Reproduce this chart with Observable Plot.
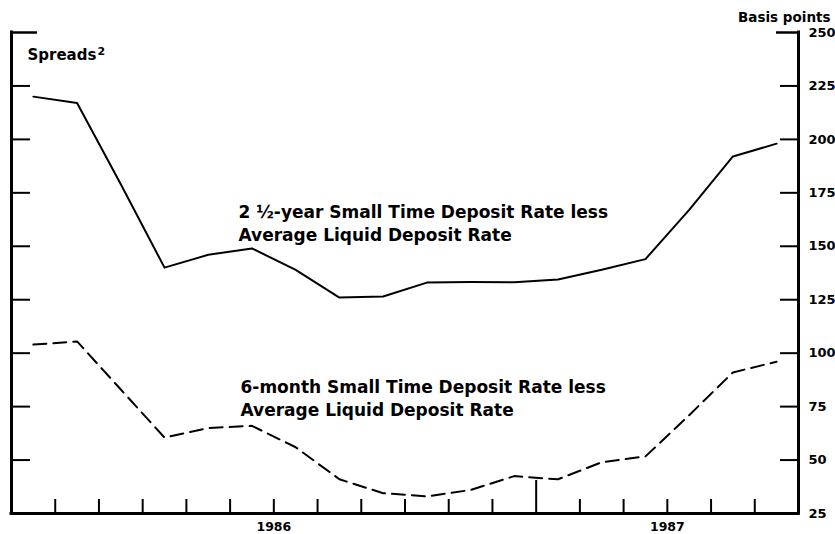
<!DOCTYPE html>
<html>
<head>
<meta charset="utf-8">
<script src="https://cdn.jsdelivr.net/npm/d3@7"></script>
<script src="https://cdn.jsdelivr.net/npm/@observablehq/plot@0.6"></script>
<style>
  html, body { margin: 0; padding: 0; background: #fff; }
</style>
</head>
<body>
<div id="chart"></div>
<script>
// Monthly observations, Jan 1986 – Jun 1987
const months = ["1986-01","1986-02","1986-03","1986-04","1986-05","1986-06","1986-07","1986-08","1986-09","1986-10","1986-11","1986-12",
                "1987-01","1987-02","1987-03","1987-04","1987-05","1987-06"];
// 2½-year small time deposit rate less average liquid deposit rate (basis points)
const longSpread  = [220, 217, 179, 140, 146, 149, 139, 126, 126.5, 133, 133.3, 133.2, 134.5, 139, 144, 167, 192, 198];
// 6-month small time deposit rate less average liquid deposit rate (basis points)
const shortSpread = [104, 105.5, 83, 60.5, 65, 66, 56, 41, 34.5, 33, 36, 42.5, 41, 49, 51.7, 71, 91, 96];

const yTickValues  = [50, 75, 100, 125, 150, 175, 200, 225];
const yLabelValues = [25, 50, 75, 100, 125, 150, 175, 200, 225, 250];
const yTop = 250;
const yBottom = 25;

const longLabel  = "2 \u00BD-year Small Time Deposit Rate less\nAverage Liquid Deposit Rate";
const shortLabel = "6-month Small Time Deposit Rate less\nAverage Liquid Deposit Rate";
const titleText = "Spreads";
const titleNote = "2";
const unitText = "Basis points";

// derived
const n = months.length;
const data = months.map((m, i) => ({i: i + 0.5, long: longSpread[i], short: shortSpread[i]}));
const years = Array.from(new Set(months.map(m => m.slice(0, 4))));
const yearCenters = years.map(y => {
  const idx = months.map((m, i) => m.startsWith(y) ? i : -1).filter(i => i >= 0);
  return (idx[0] + idx[idx.length - 1] + 1) / 2;
});
const yearLabelMap = new Map(yearCenters.map((c, k) => [c, years[k]]));
const yearBoundaries = months.map((m, i) => i).filter(i => i > 0 && months[i].slice(0, 4) !== months[i - 1].slice(0, 4));
const monthTicks = d3.range(1, n).filter(i => !yearBoundaries.includes(i));

const chart = Plot.plot({
  width: 835,
  height: 534,
  marginLeft: 11,
  marginRight: 37,
  marginTop: 32,
  marginBottom: 21,
  x: {domain: [0, n], axis: null},
  y: {domain: [yBottom, yTop], axis: null},
  style: {fontFamily: "DejaVu Sans", fontWeight: "bold", color: "#000", background: "#fff", overflow: "visible"},
  marks: [
    // left inward ticks
    Plot.axisY(yTickValues, {anchor: "left", tickSize: 19, dx: 19, fill: "none", label: null, strokeWidth: 2}),
    Plot.axisY([yTop], {anchor: "left", tickSize: 26, dx: 26, fill: "none", label: null, strokeWidth: 2.5}),
    // right inward ticks
    Plot.axisY(yTickValues, {anchor: "right", tickSize: 19, dx: -19, fill: "none", label: null, strokeWidth: 2}),
    Plot.axisY([yTop], {anchor: "right", tickSize: 23, dx: -23, fill: "none", label: null, strokeWidth: 2.5}),
    // right labels
    Plot.axisY(yLabelValues, {anchor: "right", tickSize: 0, tickPadding: 10, fontSize: 13, label: null}),
    // bottom ticks
    Plot.axisX(monthTicks, {anchor: "bottom", tickSize: 14, dy: -14, fill: "none", label: null, strokeWidth: 2}),
    Plot.axisX(yearBoundaries, {anchor: "bottom", tickSize: 33, dy: -33, fill: "none", label: null, strokeWidth: 2}),
    Plot.axisX(yearCenters, {anchor: "bottom", tickSize: 0, tickPadding: 9, tickFormat: d => yearLabelMap.get(d), fontSize: 12.5, label: null}),
    // frame
    Plot.ruleX([0, n], {strokeWidth: 3, strokeLinecap: "square"}),
    Plot.ruleY([yBottom], {strokeWidth: 3, strokeLinecap: "square"}),
    // series
    Plot.line(data, {x: "i", y: "long", stroke: "#000", strokeWidth: 2}),
    Plot.line(data, {x: "i", y: "short", stroke: "#000", strokeWidth: 2, strokeDasharray: "13,7"}),
    // annotations
    Plot.text([longLabel], {frameAnchor: "top-left", dx: 227, dy: 168, textAnchor: "start", lineAnchor: "top", lineHeight: 1.41, fontSize: 17, fill: "#000"}),
    Plot.text([shortLabel], {frameAnchor: "top-left", dx: 229, dy: 344, textAnchor: "start", lineAnchor: "top", lineHeight: 1.35, fontSize: 17, fill: "#000"}),
    Plot.text([titleText], {frameAnchor: "top-left", dx: 16, dy: 16.5, textAnchor: "start", lineAnchor: "top", fontSize: 15, fill: "#000"}),
    Plot.text([titleNote], {frameAnchor: "top-left", dx: 86, dy: 15, textAnchor: "start", lineAnchor: "top", fontSize: 11, fill: "#000"}),
    Plot.text([unitText], {frameAnchor: "top-right", dx: 32, dy: -20, textAnchor: "end", lineAnchor: "top", fontSize: 13.5, fill: "#000"})
  ]
});
d3.select(chart).selectAll("text").attr("font-weight", "bold").attr("font-family", "DejaVu Sans");
document.getElementById("chart").appendChild(chart);
</script>
</body>
</html>
